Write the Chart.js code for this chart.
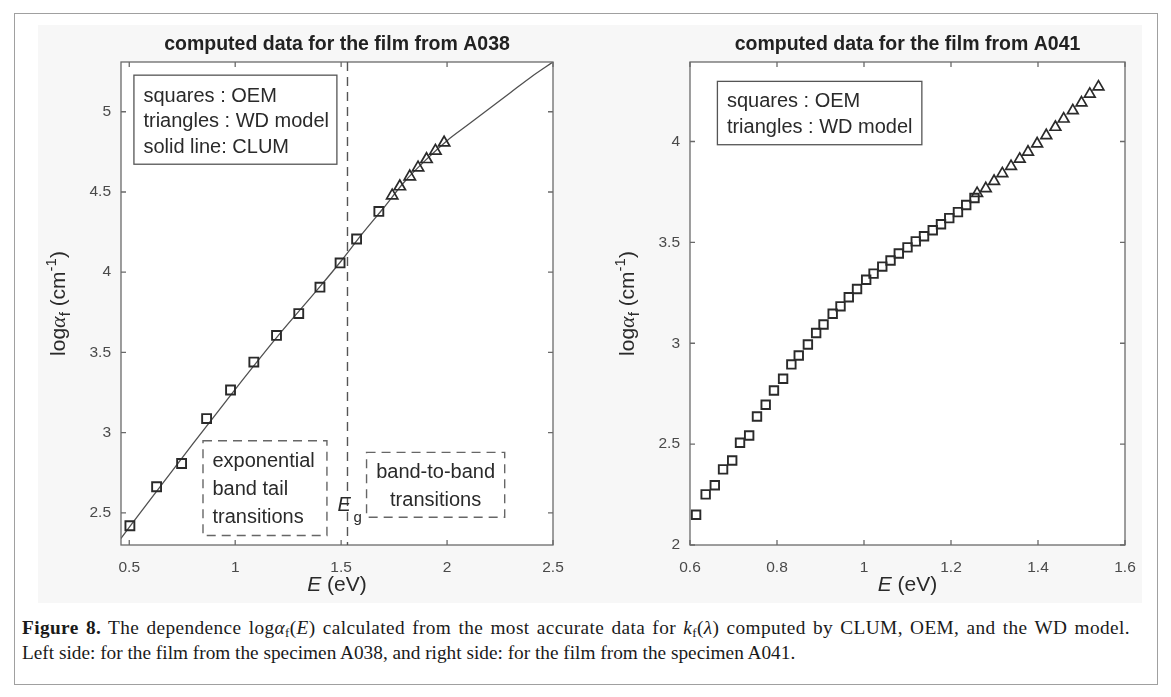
<!doctype html>
<html lang="en">
<head>
<meta charset="utf-8">
<title>log alpha_f(E)</title>
<script src="https://cdn.jsdelivr.net/npm/chart.js@4.4.1/dist/chart.umd.min.js"></script>
<style>
  body { margin: 0; width: 1171px; height: 697px; position: relative; background: #fff; overflow: hidden; }
  #frame { position: absolute; left: 14px; top: 13px; width: 1142px; height: 670px; border: 1px solid #a0a0a0; }
  #figbg { position: absolute; left: 38px; top: 25px; width: 1104px; height: 578px; background: #f7f7f7; }
  .plot { position: absolute; top: 0; }
  #cap { position: absolute; left: 22px; top: 615px; width: 1108px; font-family: "Liberation Serif", serif;
         font-size: 19.3px; line-height: 25px; color: #1a1a1a; }
  #cap div { white-space: nowrap; }
  #cap .just { text-align: justify; text-align-last: justify; letter-spacing: 0.4px; }
  #cap sub { font-size: 13px; vertical-align: -3px; line-height: 0; }
</style>
</head>
<body>
<div id="frame"></div>
<div id="figbg"></div>
<div class="plot" style="left:0"><canvas id="left" width="580" height="610"></canvas></div>
<div class="plot" style="left:580px"><canvas id="right" width="591" height="610"></canvas></div>
<div id="cap">
  <div class="just"><b>Figure 8.</b> The dependence log<i>α</i><sub>f</sub>(<i>E</i>) calculated from the most accurate data for <i>k</i><sub>f</sub>(<i>λ</i>) computed by CLUM, OEM, and the WD model.</div>
  <div>Left side: for the film from the specimen A038, and right side: for the film from the specimen A041.</div>
</div>
<script>
// ---- left panel (A038) ----
const leftOemE = [0.503, 0.629, 0.747, 0.865, 0.978, 1.088, 1.195, 1.300, 1.400, 1.495, 1.573, 1.678];
const leftOemLog = [2.42, 2.663, 2.808, 3.088, 3.266, 3.44, 3.606, 3.742, 3.907, 4.058, 4.207, 4.379];
const leftWdE = [1.741, 1.777, 1.824, 1.863, 1.903, 1.945, 1.986];
const leftWdLog = [4.477, 4.534, 4.596, 4.652, 4.704, 4.756, 4.807];
const leftClumE = [0.46, 0.6, 0.8, 1.0, 1.2, 1.4, 1.5, 1.6, 1.7, 1.8, 1.9, 2.0, 2.1, 2.2, 2.3, 2.4, 2.5];
const leftClumLog = [2.34, 2.585, 2.93, 3.27, 3.60, 3.91, 4.07, 4.24, 4.40, 4.565, 4.70, 4.82, 4.92, 5.02, 5.12, 5.22, 5.31];
const leftXTicks = [0.5, 1, 1.5, 2, 2.5];
const leftYTicks = [2.5, 3, 3.5, 4, 4.5, 5];
const eg = 1.53;

// ---- right panel (A041) ----
const rightOemE = [0.614, 0.636, 0.657, 0.676, 0.697, 0.715, 0.736, 0.754, 0.774, 0.793, 0.814, 0.833,
  0.850, 0.871, 0.890, 0.907, 0.928, 0.946, 0.965, 0.984, 1.005, 1.022, 1.042, 1.061, 1.080, 1.100,
  1.119, 1.138, 1.158, 1.177, 1.196, 1.216, 1.235, 1.254];
const rightOemLog = [2.150, 2.251, 2.296, 2.375, 2.419, 2.507, 2.543, 2.637, 2.695, 2.766, 2.824, 2.895,
  2.939, 2.994, 3.051, 3.093, 3.146, 3.183, 3.228, 3.269, 3.315, 3.345, 3.38, 3.41, 3.445, 3.475,
  3.505, 3.53, 3.56, 3.59, 3.62, 3.65, 3.685, 3.72];
const rightWdE = [1.260, 1.280, 1.299, 1.318, 1.338, 1.358, 1.377, 1.398, 1.419, 1.440, 1.459, 1.480, 1.500, 1.519, 1.539];
const rightWdLog = [3.743, 3.767, 3.803, 3.841, 3.877, 3.913, 3.948, 3.989, 4.030, 4.071, 4.112, 4.153, 4.192, 4.235, 4.271];
const rightXTicks = [0.6, 0.8, 1, 1.2, 1.4, 1.6];
const rightYTicks = [2, 2.5, 3, 3.5, 4];

const titles = ['computed data for the film from A038', 'computed data for the film from A041'];
const legendLeft = ['squares : OEM', 'triangles : WD model', 'solid line: CLUM'];
const legendRight = ['squares : OEM', 'triangles : WD model'];

const SANS = '"Liberation Sans", Arial, sans-serif';
const INK = '#2a2a2a';
const AXIS = '#6a6a6a';

function pts(xs, ys) { return xs.map((x, i) => ({x: x, y: ys[i]})); }
function fmt(v) { return String(Math.round(v * 100) / 100); }

function rich(ctx, parts, cx, cy) {
  let w = 0;
  parts.forEach(p => { ctx.font = p.font; p.w = ctx.measureText(p.t).width; w += p.w; });
  let x = cx - w / 2;
  parts.forEach(p => { ctx.font = p.font; ctx.fillText(p.t, x, cy + (p.dy || 0)); x += p.w; });
}

// axes box, inner ticks, axis titles and the text notes
function notesPlugin(spec) {
  return {
    id: 'notes',
    beforeDatasetsDraw(chart) {
      const {ctx, chartArea: a} = chart;
      ctx.save();
      ctx.fillStyle = '#fff';
      ctx.fillRect(a.left, a.top, a.right - a.left, a.bottom - a.top);
      ctx.restore();
    },
    afterDatasetsDraw(chart) {
      const {ctx, chartArea: a, scales: {x, y}} = chart;
      ctx.save();
      ctx.strokeStyle = AXIS;
      ctx.lineWidth = 1.3;
      ctx.strokeRect(a.left, a.top, a.right - a.left, a.bottom - a.top);
      ctx.beginPath();
      x.ticks.forEach(t => {
        const px = x.getPixelForValue(t.value);
        ctx.moveTo(px, a.bottom); ctx.lineTo(px, a.bottom - 5);
        ctx.moveTo(px, a.top); ctx.lineTo(px, a.top + 5);
      });
      y.ticks.forEach(t => {
        const py = y.getPixelForValue(t.value);
        ctx.moveTo(a.left, py); ctx.lineTo(a.left + 5, py);
        ctx.moveTo(a.right, py); ctx.lineTo(a.right - 5, py);
      });
      ctx.stroke();

      // E_g line
      if (spec.eg) {
        const px = x.getPixelForValue(spec.eg);
        ctx.setLineDash([9, 6]);
        ctx.strokeStyle = '#555';
        ctx.lineWidth = 1.4;
        ctx.beginPath(); ctx.moveTo(px, a.top); ctx.lineTo(px, a.bottom); ctx.stroke();
        ctx.setLineDash([]);
        ctx.fillStyle = INK;
        ctx.textBaseline = 'alphabetic';
        ctx.textAlign = 'left';
        const py = y.getPixelForValue(2.558) + 7;
        ctx.font = 'italic 20px ' + SANS;
        ctx.fillText('E', px - 10, py);
        ctx.font = '15px ' + SANS;
        ctx.fillText('g', px + 6, py + 11);
      }

      // text boxes
      ctx.textBaseline = 'middle';
      ctx.fillStyle = INK;
      ctx.font = '20px ' + SANS;
      spec.boxes.forEach(b => {
        const x0 = x.getPixelForValue(b.x0), x1 = x.getPixelForValue(b.x1);
        const y0 = y.getPixelForValue(b.y1), y1 = y.getPixelForValue(b.y0);
        if (b.dashed) {
          ctx.setLineDash([9, 6]); ctx.strokeStyle = '#666'; ctx.lineWidth = 1.4;
        } else {
          ctx.fillStyle = '#fff'; ctx.fillRect(x0, y0, x1 - x0, y1 - y0);
          ctx.setLineDash([]); ctx.strokeStyle = '#555'; ctx.lineWidth = 1.3;
        }
        ctx.strokeRect(x0, y0, x1 - x0, y1 - y0);
        ctx.setLineDash([]);
        ctx.fillStyle = INK;
        ctx.textAlign = b.center ? 'center' : 'left';
        b.lines.forEach((s, i) => {
          ctx.fillText(s, b.center ? (x0 + x1) / 2 : x0 + 9.5, y0 + b.first + i * b.step);
        });
      });

      // axis titles
      ctx.textAlign = 'left';
      ctx.textBaseline = 'alphabetic';
      ctx.fillStyle = INK;
      rich(ctx, [
        {t: 'E', font: 'italic 21px ' + SANS},
        {t: ' (eV)', font: '21px ' + SANS}
      ], (a.left + a.right) / 2, a.bottom + 46);
      ctx.save();
      ctx.translate(a.left - 64, (a.top + a.bottom) / 2);
      ctx.rotate(-Math.PI / 2);
      rich(ctx, [
        {t: 'log', font: '21px ' + SANS},
        {t: 'α', font: 'italic 22px "Liberation Serif", serif'},
        {t: 'f', font: '15px ' + SANS, dy: 5},
        {t: ' (cm', font: '21px ' + SANS},
        {t: '-1', font: '15px ' + SANS, dy: -9},
        {t: ')', font: '21px ' + SANS}
      ], 0, 8);
      ctx.restore();
      ctx.restore();
    }
  };
}

function makeChart(id, cfg) {
  const tickFont = {family: SANS, size: 15.5};
  return new Chart(document.getElementById(id), {
    type: 'scatter',
    data: {datasets: cfg.datasets},
    options: {
      responsive: false,
      animation: false,
      layout: {padding: {left: 0, right: cfg.padRight, top: 0, bottom: 0}},
      plugins: {
        legend: {display: false},
        tooltip: {enabled: false},
        title: {
          display: true, text: cfg.title, fullSize: false, color: '#222',
          font: {family: SANS, size: 19.5, weight: 'bold'},
          padding: {top: 33, bottom: 5.6}
        }
      },
      scales: {
        x: {
          type: 'linear', min: cfg.xMin, max: cfg.xMax,
          afterBuildTicks: s => { s.ticks = cfg.xTicks.map(v => ({value: v})); },
          afterFit: s => { s.height = 65; },
          grid: {display: false, drawTicks: false}, border: {display: false},
          ticks: {padding: 13, color: '#4a4a4a', font: tickFont, maxRotation: 0, autoSkip: false, callback: fmt}
        },
        y: {
          type: 'linear', min: cfg.yMin, max: cfg.yMax,
          afterBuildTicks: s => { s.ticks = cfg.yTicks.map(v => ({value: v})); },
          afterFit: s => { s.width = cfg.yWidth; },
          grid: {display: false, drawTicks: false}, border: {display: false},
          ticks: {padding: 10, color: '#4a4a4a', font: tickFont, autoSkip: false, callback: fmt}
        }
      }
    },
    plugins: [notesPlugin(cfg.notes)]
  });
}

const squareStyle = {showLine: false, pointStyle: 'rect', pointRadius: 6.3, pointBorderWidth: 1.9,
  pointBorderColor: INK, pointBackgroundColor: 'rgba(0,0,0,0)'};
const triStyle = {showLine: false, pointStyle: 'triangle', pointRadius: 6.5, pointBorderWidth: 1.7,
  pointBorderColor: INK, pointBackgroundColor: 'rgba(0,0,0,0)'};

makeChart('left', {
  title: titles[0], padRight: 27, yWidth: 121,
  xMin: 0.461, xMax: 2.5, yMin: 2.3, yMax: 5.31, xTicks: leftXTicks, yTicks: leftYTicks,
  datasets: [
    Object.assign({label: 'OEM', data: pts(leftOemE, leftOemLog)}, squareStyle),
    Object.assign({label: 'WD model', data: pts(leftWdE, leftWdLog)}, triStyle),
    {label: 'CLUM', data: pts(leftClumE, leftClumLog), showLine: true, pointRadius: 0,
     borderColor: '#505050', borderWidth: 1.3, cubicInterpolationMode: 'monotone'}
  ],
  notes: {
    eg: eg,
    boxes: [
      {x0: 0.522, x1: 1.48, y0: 4.673, y1: 5.228, lines: legendLeft, first: 21, step: 25.8},
      {x0: 0.848, x1: 1.433, y0: 2.359, y1: 2.95, dashed: true, lines: ['exponential', 'band tail', 'transitions'], first: 21, step: 27.7},
      {x0: 1.62, x1: 2.272, y0: 2.473, y1: 2.877, dashed: true, center: true, lines: ['band-to-band', 'transitions'], first: 20.5, step: 28}
    ]
  }
});

makeChart('right', {
  title: titles[1], padRight: 46, yWidth: 110,
  xMin: 0.6, xMax: 1.6, yMin: 2, yMax: 4.394, xTicks: rightXTicks, yTicks: rightYTicks,
  datasets: [
    Object.assign({label: 'OEM', data: pts(rightOemE, rightOemLog)}, squareStyle, {pointRadius: 6}),
    Object.assign({label: 'WD model', data: pts(rightWdE, rightWdLog)}, triStyle, {pointRadius: 6.2})
  ],
  notes: {
    boxes: [
      {x0: 0.663, x1: 1.133, y0: 3.984, y1: 4.298, lines: legendRight, first: 20.5, step: 25.6}
    ]
  }
});
</script>
</body>
</html>
